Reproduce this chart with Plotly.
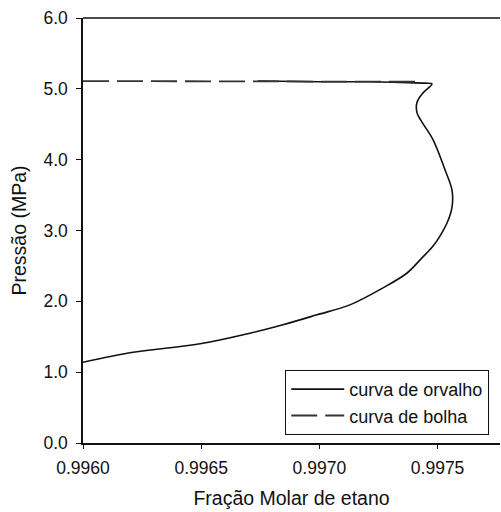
import plotly.graph_objects as go

# Curva de orvalho (dew curve): fração molar de etano x pressão (MPa)
orvalho_x = [0.996000, 0.996212, 0.996495, 0.996706, 0.996846, 0.996990,
             0.997129, 0.997269, 0.997371, 0.997430, 0.997481, 0.997515,
             0.997543, 0.997561, 0.997561, 0.997531, 0.997481, 0.997434,
             0.997413, 0.997413, 0.997438, 0.997476, 0.997447, 0.997341,
             0.997214, 0.997003, 0.996740]
orvalho_p = [1.14, 1.28, 1.40, 1.55, 1.67, 1.81,
             1.95, 2.19, 2.40, 2.60, 2.78, 2.95,
             3.13, 3.33, 3.57, 3.86, 4.28, 4.53,
             4.66, 4.81, 4.94, 5.07, 5.08, 5.09,
             5.10, 5.10, 5.11]

# Curva de bolha (bubble curve)
bolha_x = [0.99600, 0.99650, 0.99700, 0.99720, 0.99742]
bolha_p = [5.11, 5.11, 5.11, 5.105, 5.10]

x_ticks = [0.9960, 0.9965, 0.9970, 0.9975]
y_ticks = [0.0, 1.0, 2.0, 3.0, 4.0, 5.0, 6.0]

fig = go.Figure()
fig.add_trace(go.Scatter(
    x=orvalho_x, y=orvalho_p, mode="lines", name="curva de orvalho",
    line=dict(color="#111111", width=1.6, shape="spline", smoothing=1.0),
))
fig.add_trace(go.Scatter(
    x=bolha_x, y=bolha_p, mode="lines", name="curva de bolha",
    line=dict(color="#333333", width=1.8, dash="26px,8px"),
))

# top frame line across the plot area (frame open on the right)
fig.add_shape(type="line", xref="paper", yref="paper", x0=0, x1=1, y0=1, y1=1,
              line=dict(color="#111111", width=1.5), layer="above")

font = "Liberation Sans, Arial, sans-serif"
fig.update_layout(
    width=501, height=512,
    margin=dict(l=83, r=1, t=18, b=69, autoexpand=False),
    paper_bgcolor="white", plot_bgcolor="white",
    font=dict(family=font, color="#111111", size=17),
    showlegend=True,
    legend=dict(
        x=0.485, y=0.172, xanchor="left", yanchor="top",
        bordercolor="#111111", borderwidth=1, bgcolor="white",
        font=dict(size=18, family=font, color="#111111"),
        tracegroupgap=0, itemwidth=53,
    ),
    xaxis=dict(
        range=[0.996, 0.997764], tickvals=x_ticks, tickformat=".4f",
        showgrid=False, zeroline=False, automargin=False,
        showline=True, linecolor="#111111", linewidth=1.5, mirror=False,
        ticks="outside", ticklen=4, tickwidth=1.2, tickcolor="#111111",
        tickfont=dict(size=17.5), ticklabelstandoff=4,
        title=dict(text="Fração Molar de etano", font=dict(size=19.5), standoff=15),
    ),
    yaxis=dict(
        range=[0, 6], tickvals=y_ticks, tickformat=".1f",
        showgrid=False, zeroline=False, automargin=False,
        showline=True, linecolor="#111111", linewidth=1.5, mirror=False,
        ticks="outside", ticklen=5, tickwidth=1.2, tickcolor="#111111",
        tickfont=dict(size=17.5), ticklabelstandoff=5,
        title=dict(text="Pressão (MPa)", font=dict(size=19.5), standoff=12),
    ),
)

fig.write_html("out.html")
